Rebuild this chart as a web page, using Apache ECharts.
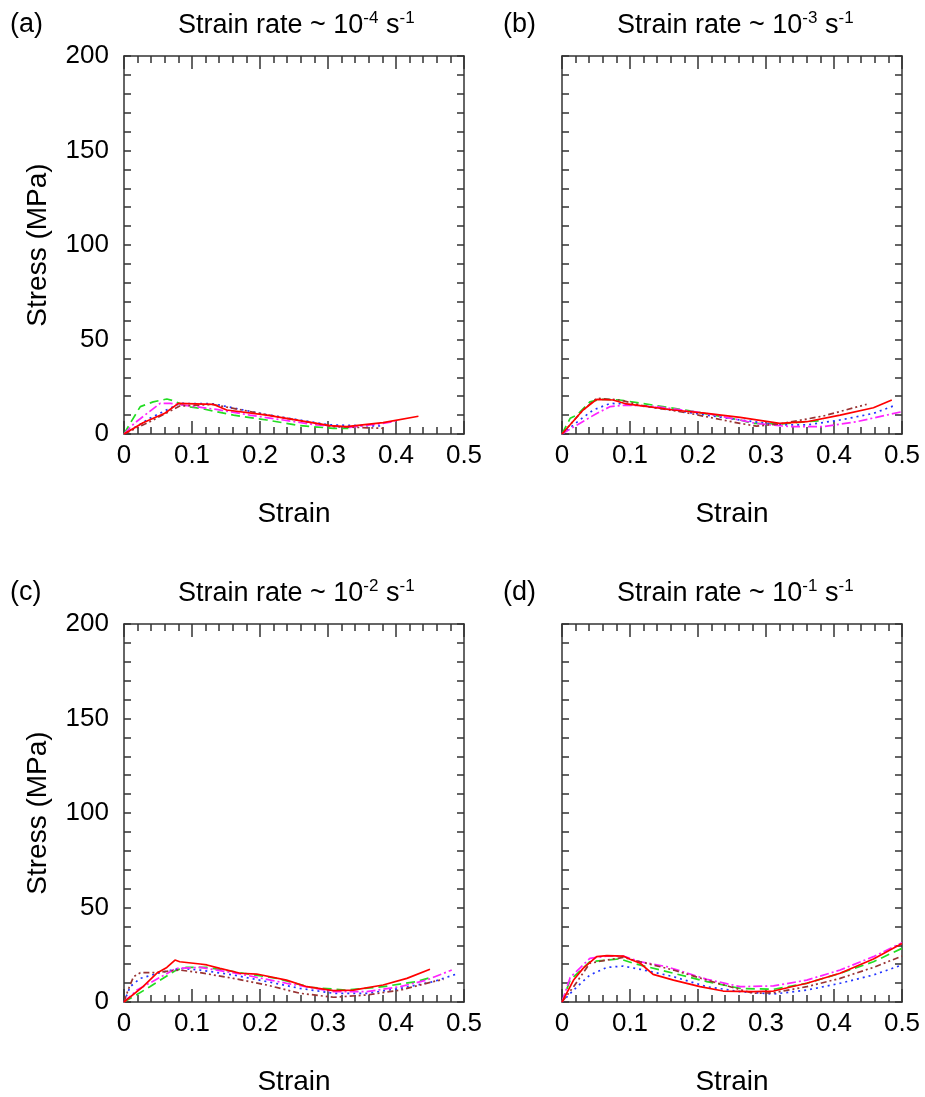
<!DOCTYPE html>
<html>
<head>
<meta charset="utf-8">
<title>Stress-strain curves</title>
<script src="https://cdn.jsdelivr.net/npm/echarts@6/dist/echarts.min.js"></script>
<style>
  html, body { margin: 0; padding: 0; background: #fff; }
  #main { width: 925px; height: 1097px; }
</style>
</head>
<body>
<div id="main"></div>
<script>
// 应变-应力曲线，四种应变速率
"use strict";

// 面板标题
const panelTags = ["(a)", "(b)", "(c)", "(d)"];
const rateExp = ["-4", "-3", "-2", "-1"];

// (a) 10^-4 s^-1
const aRed = [[0, 0], [0.028, 6], [0.06, 11], [0.08, 16.2], [0.131, 15.7], [0.151, 12.7], [0.21, 10], [0.303, 4.4], [0.327, 3.9], [0.381, 6], [0.433, 9.4]];
const aGreen = [[0, 0], [0.009, 5.6], [0.024, 14.5], [0.043, 17], [0.063, 18.5], [0.073, 17.6], [0.092, 14.5], [0.112, 13.6], [0.161, 10], [0.21, 7.4], [0.259, 4.4], [0.308, 3], [0.33, 3]];
const aBlue = [[0, 0], [0.038, 8.3], [0.082, 16.2], [0.131, 16], [0.21, 10.2], [0.303, 4.8], [0.381, 4.2]];
const aMagenta = [[0, 0], [0.015, 5.6], [0.053, 16.2], [0.068, 16.2], [0.087, 15.3], [0.136, 13], [0.185, 10], [0.234, 7.4], [0.283, 4.8], [0.332, 3.5], [0.381, 5.6], [0.4, 6.9]];
const aBrown = [[0, 0], [0.038, 6.5], [0.082, 14.8], [0.112, 15.3], [0.131, 15.6], [0.21, 10.2], [0.308, 3.9], [0.381, 3]];

// (b) 10^-3 s^-1
const bRed = [[0, 0], [0.031, 12.7], [0.051, 18.3], [0.075, 18], [0.095, 15.9], [0.164, 12.7], [0.213, 10.9], [0.262, 8.8], [0.32, 5.6], [0.36, 6.5], [0.409, 10], [0.458, 13.9], [0.485, 18]];
const bGreen = [[0, 0], [0.012, 8.3], [0.022, 10], [0.041, 17], [0.056, 18.3], [0.085, 18], [0.134, 15.3], [0.188, 12.3], [0.262, 7.4], [0.28, 5.6], [0.32, 5.3], [0.36, 6.5], [0.385, 7.2]];
const bBlue = [[0, 0], [0.026, 7.4], [0.046, 12.7], [0.071, 16.2], [0.095, 15.9], [0.164, 12.6], [0.262, 7.4], [0.32, 4.8], [0.36, 4.8], [0.409, 7.4], [0.458, 10.9], [0.487, 14.8]];
const bMagenta = [[0, 0], [0.026, 5.6], [0.051, 10.9], [0.071, 14.5], [0.095, 15.3], [0.139, 14.5], [0.213, 10.9], [0.286, 5.6], [0.335, 3.9], [0.384, 3.9], [0.433, 6.5], [0.5, 11.8]];
const bBrown = [[0, 0], [0.031, 12.7], [0.051, 18.9], [0.085, 18], [0.115, 15.3], [0.188, 10.9], [0.262, 5.6], [0.286, 4.2], [0.32, 5.3], [0.384, 9.5], [0.448, 15.7]];

// (c) 10^-2 s^-1
const cRed = [[0, 0], [0.028, 8.1], [0.048, 15.2], [0.063, 18.3], [0.075, 22.2], [0.082, 21.3], [0.112, 20.1], [0.122, 19.6], [0.141, 17.8], [0.171, 15.2], [0.195, 14.8], [0.239, 11.6], [0.269, 8.1], [0.308, 6], [0.337, 6.3], [0.381, 9], [0.416, 12.5], [0.45, 17.3]];
const cGreen = [[0, 0], [0.014, 2.8], [0.038, 8.1], [0.077, 16.9], [0.092, 18.3], [0.122, 18.3], [0.176, 15.2], [0.225, 12.5], [0.273, 7.8], [0.327, 6.3], [0.381, 8.1], [0.43, 10.8], [0.455, 13.4]];
const cBlue = [[0, 0], [0.009, 8.1], [0.024, 12.5], [0.053, 15.5], [0.082, 17.8], [0.112, 16.9], [0.161, 14.3], [0.21, 10.8], [0.259, 7.2], [0.308, 4.6], [0.357, 4.6], [0.406, 7.2], [0.455, 10.8], [0.489, 14.8]];
const cMagenta = [[0, 0], [0.019, 6.3], [0.077, 17.8], [0.112, 18.3], [0.171, 14.8], [0.239, 9.9], [0.308, 5.5], [0.357, 5.5], [0.406, 8.1], [0.445, 11.6], [0.482, 16.9]];
const cBrown = [[0, 0], [0.006, 6.3], [0.014, 13.4], [0.024, 15.5], [0.043, 15.5], [0.082, 16.9], [0.112, 15.5], [0.161, 12.5], [0.21, 9], [0.259, 4.6], [0.308, 2.5], [0.357, 3.7], [0.406, 6.3], [0.455, 10.8], [0.47, 12]];

// (d) 10^-1 s^-1
const dRed = [[0, 0], [0.017, 11.6], [0.031, 17.8], [0.051, 24], [0.066, 24.5], [0.09, 24.3], [0.1, 22.6], [0.115, 20.5], [0.134, 14.6], [0.164, 11.6], [0.203, 8.1], [0.237, 5.8], [0.281, 5.5], [0.311, 5.8], [0.36, 9.9], [0.409, 15.2], [0.458, 22.8], [0.5, 31]];
const dGreen = [[0, 0], [0.012, 11.6], [0.041, 21.3], [0.066, 22.2], [0.085, 22.8], [0.105, 20.5], [0.129, 18.3], [0.164, 15.2], [0.213, 10.8], [0.262, 7.2], [0.311, 6.7], [0.36, 9.9], [0.409, 15.2], [0.458, 21.3], [0.5, 28.4]];
const dBlue = [[0, 0], [0.017, 6.3], [0.041, 14.3], [0.066, 18.3], [0.09, 19], [0.115, 17.3], [0.164, 13.4], [0.213, 8.1], [0.262, 5.5], [0.311, 4.2], [0.36, 6.3], [0.409, 9.9], [0.458, 14.3], [0.5, 19.6]];
const dMagenta = [[0, 0], [0.012, 13], [0.041, 23.1], [0.066, 24.3], [0.09, 24.3], [0.115, 21.3], [0.154, 18.7], [0.213, 12], [0.262, 8.1], [0.311, 8.5], [0.36, 11.6], [0.409, 16.9], [0.458, 24], [0.5, 31.4]];
const dBrown = [[0, 0], [0.017, 8.1], [0.041, 20.5], [0.066, 22.2], [0.09, 23.6], [0.115, 21.3], [0.164, 16.9], [0.213, 11.6], [0.281, 4.6], [0.311, 4.9], [0.36, 8.1], [0.409, 12.5], [0.458, 18.3], [0.5, 24.3]];

const panels = [
    [aGreen, aBlue, aMagenta, aBrown, aRed],
    [bGreen, bBlue, bMagenta, bBrown, bRed],
    [cGreen, cBlue, cMagenta, cBrown, cRed],
    [dGreen, dBlue, dMagenta, dBrown, dRed],
];

// 线型：绿虚线、蓝点线、品红点划线、褐色双点划线、红实线
const lineColors = ['#22dd22', '#2233ff', '#ff22ff', '#993333', '#ff0000'];
const lineDash = [[9, 5], [2, 4], [9, 3, 2, 3], [6, 3, 2, 3, 2, 3], 'solid'];

const axisColor = '#333';
const font = 'Liberation Sans, Arial, sans-serif';
const fs = 26;      // 刻度标签
const fsName = 28;  // 轴名称
const fsTitle = 27; // 标题

let myChart = echarts.init(document.getElementById('main'));

let grids = [];
let xAxes = [];
let yAxes = [];
let titles = [];
let series = [];

const lefts = [124, 562, 124, 562];
const tops = [56, 56, 624, 624];

for (let i = 0; i < 4; i++) {
    let isLeft = (i % 2 === 0);
    grids.push({left: lefts[i], top: tops[i], width: 340, height: 378});

    let xBase = {
        gridIndex: i,
        type: 'value',
        min: 0,
        max: 0.5,
        interval: 0.1,
        axisLine: {show: true, onZero: false, lineStyle: {color: axisColor, width: 1.5}},
        axisTick: {show: true, inside: true, length: 13, lineStyle: {color: axisColor, width: 1.5}},
        minorTick: {show: true, splitNumber: 5, length: 7, lineStyle: {color: axisColor, width: 1.5}},
        splitLine: {show: false},
    };
    // 下方 X 轴
    xAxes.push(Object.assign({}, xBase, {
        position: 'bottom',
        name: 'Strain',
        nameLocation: 'middle',
        nameGap: 66,
        nameTextStyle: {fontSize: fsName, color: '#000', fontFamily: font},
        axisLabel: {show: true, fontSize: fs, color: '#000', fontFamily: font, margin: 9},
    }));
    // 上方 X 轴（只有刻度）
    xAxes.push(Object.assign({}, xBase, {
        position: 'top',
        axisLabel: {show: false},
    }));

    let yBase = {
        gridIndex: i,
        type: 'value',
        min: 0,
        max: 200,
        interval: 50,
        axisLine: {show: true, onZero: false, lineStyle: {color: axisColor, width: 1.5}},
        axisTick: {show: true, inside: true, length: 7, lineStyle: {color: axisColor, width: 1.5}},
        minorTick: {show: true, splitNumber: 5, length: 7, lineStyle: {color: axisColor, width: 1.5}},
        splitLine: {show: false},
    };
    yAxes.push(Object.assign({}, yBase, {
        position: 'left',
        name: isLeft ? 'Stress (MPa)' : '',
        nameLocation: 'middle',
        nameGap: 72,
        nameTextStyle: {fontSize: fsName, color: '#000', fontFamily: font},
        axisLabel: {show: isLeft, fontSize: fs, color: '#000', fontFamily: font, margin: 15},
    }));
    yAxes.push(Object.assign({}, yBase, {
        position: 'right',
        axisLabel: {show: false},
    }));

    // 标题
    titles.push({
        text: panelTags[i],
        left: isLeft ? 5 : 498,
        top: tops[i] - 50,
        textStyle: {fontSize: fsTitle, fontWeight: 'normal', color: '#000', fontFamily: font},
    });
    titles.push({
        text: '{n|Strain rate ~ 10}{s|' + rateExp[i] + '}{n| s}{s|-1}',
        left: isLeft ? 173 : 612,
        top: tops[i] - 51,
        textStyle: {
            fontWeight: 'normal',
            rich: {
                n: {fontSize: fsTitle, fontWeight: 'normal', color: '#000', fontFamily: font, lineHeight: 32},
                s: {fontSize: 17, fontWeight: 'normal', color: '#000', fontFamily: font, lineHeight: 17, verticalAlign: 'top'},
            },
        },
    });

    panels[i].forEach((data, k) => {
        series.push({
            type: 'line',
            xAxisIndex: i * 2,
            yAxisIndex: i * 2,
            data: data,
            showSymbol: false,
            symbol: 'none',
            smooth: false,
            silent: true,
            lineStyle: {color: lineColors[k], width: 1.7, type: lineDash[k]},
        });
    });
}

let option = {
    animation: false,
    backgroundColor: '#fff',
    title: titles,
    grid: grids,
    xAxis: xAxes,
    yAxis: yAxes,
    series: series,
};

myChart.setOption(option);
</script>
</body>
</html>
